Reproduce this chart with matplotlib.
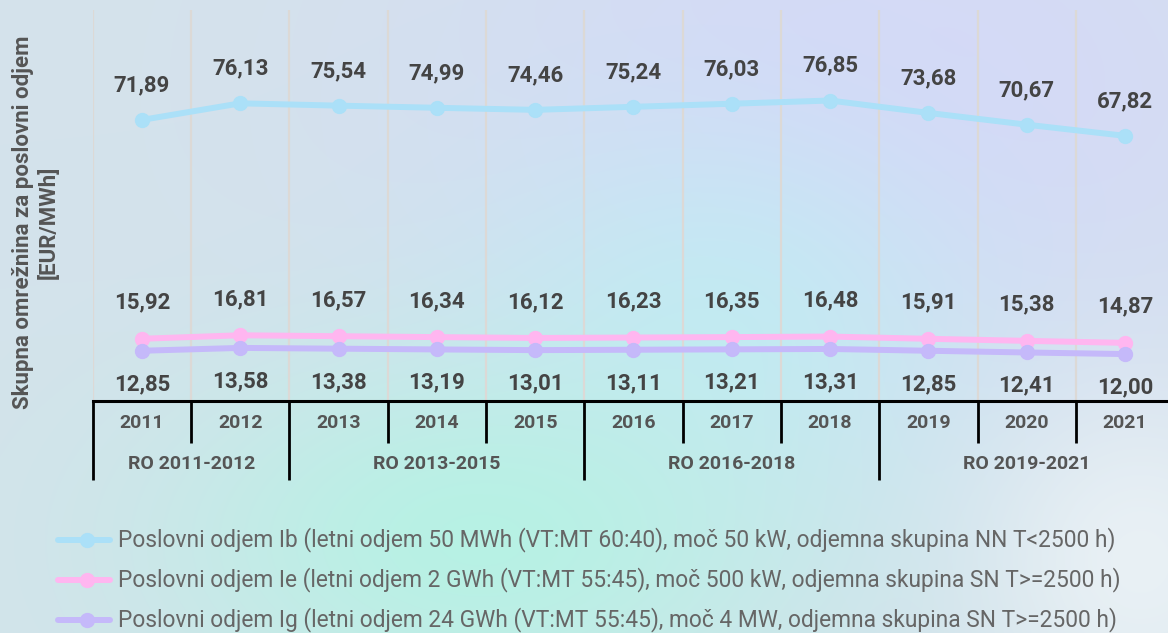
import numpy as np
import matplotlib.pyplot as plt
from matplotlib.lines import Line2D

plt.rcParams['font.family'] = ['Roboto', 'DejaVu Sans']

years = ['2011', '2012', '2013', '2014', '2015', '2016',
         '2017', '2018', '2019', '2020', '2021']
periods = ['RO 2011-2012', 'RO 2013-2015', 'RO 2016-2018', 'RO 2019-2021']
period_len = [2, 3, 3, 3]

ib = [71.89, 76.13, 75.54, 74.99, 74.46, 75.24, 76.03, 76.85, 73.68, 70.67, 67.82]
ie = [15.92, 16.81, 16.57, 16.34, 16.12, 16.23, 16.35, 16.48, 15.91, 15.38, 14.87]
ig = [12.85, 13.58, 13.38, 13.19, 13.01, 13.11, 13.21, 13.31, 12.85, 12.41, 12.00]

names = [
    'Poslovni odjem Ib (letni odjem 50 MWh (VT:MT 60:40), moč 50 kW, odjemna skupina NN T<2500 h)',
    'Poslovni odjem Ie (letni odjem 2 GWh (VT:MT 55:45), moč 500 kW, odjemna skupina SN T>=2500 h)',
    'Poslovni odjem Ig (letni odjem 24 GWh (VT:MT 55:45), moč 4 MW, odjemna skupina SN T>=2500 h)',
]
colors = ['#abe0f8', '#ffb6f0', '#c5b9fa']

W, H = 1168, 633
fig = plt.figure(figsize=(W / 100, H / 100), dpi=100)

# soft pastel background
yy, xx = np.mgrid[0:H, 0:W]
img = np.ones((H, W, 3)) * np.array([212, 227, 235]) / 255


def blob(img, cx, cy, sx, sy, col, a):
    w = a * np.exp(-((xx - cx) ** 2 / (2 * sx ** 2) + (yy - cy) ** 2 / (2 * sy ** 2)))
    return img * (1 - w[..., None]) + np.array(col)[None, None, :] / 255 * w[..., None]


img = blob(img, 880, 100, 330, 220, (213, 216, 248), 0.95)
img = blob(img, 720, 320, 170, 140, (192, 236, 244), 0.8)
img = blob(img, 480, 540, 220, 130, (182, 242, 228), 0.95)
img = blob(img, 1140, 560, 110, 120, (238, 244, 247), 0.8)
bg = fig.add_axes([0, 0, 1, 1], zorder=-10)
bg.imshow(img, aspect='auto', extent=(0, 1, 0, 1))
bg.axis('off')

x = np.arange(len(years))
left = 92.85 / W
width = (W - 92.85) / W
xlim = (-0.5, -0.5 + 1075.15 / 98.3)

ax = fig.add_axes([left, (H - 401) / H, width, 391 / H])
ax.set_facecolor('none')
ax.set_xlim(*xlim)
ax.set_ylim(0, 100)
for s in ax.spines.values():
    s.set_visible(False)
ax.set_xticks([])
ax.set_yticks([])
for b in np.arange(-0.5, 10.6, 1.0):
    ax.axvline(b, color='#dcd9d6', lw=1.6, zorder=0)

label_kw = dict(ha='center', va='center', fontsize=16, fontweight='bold',
                color='#444444', textcoords='offset points')
for series, col, off in [(ib, colors[0], 25), (ie, colors[1], 26), (ig, colors[2], -24)]:
    ax.plot(x, series, color=col, lw=4.3, marker='o', ms=10, zorder=3,
            solid_capstyle='round')
    for xi, v in zip(x, series):
        ax.annotate(f'{v:.2f}'.replace('.', ','), (xi, v), xytext=(0, off), **label_kw)

fig.text(36 / W, (H - 222) / H, 'Skupna omrežnina za poslovni odjem\n[EUR/MWh]',
         rotation=90, ha='center', va='center', multialignment='center',
         fontsize=16, fontweight='bold', color='#555555', linespacing=1.2)

# category table under the plot
tab = fig.add_axes([left, (H - 480) / H, width, 79 / H])
tab.set_facecolor('none')
tab.set_xlim(*xlim)
tab.set_ylim(0, 1)
tab.axis('off')
tab.axhline(1, color='black', lw=2.2, clip_on=False)
tab.vlines(-0.5, 0, 1, color='black', lw=2, clip_on=False)
edges = np.cumsum(period_len)
for i in range(1, len(years)):
    b = i - 0.5
    full = i in edges
    tab.vlines(b, 0 if full else 0.47, 1, color='black', lw=2, clip_on=False)
for xi, yr in zip(x, years):
    tab.text(xi, 0.72, yr, ha='center', va='center', fontsize=14,
             fontweight='bold', color='#555555')
start = 0
for p, n in zip(periods, period_len):
    tab.text(start + (n - 1) / 2, 0.2, p, ha='center', va='center',
             fontsize=14, fontweight='bold', color='#555555')
    start += n

# legend rows
for i, (name, col) in enumerate(zip(names, colors)):
    yf = (H - (540 + 40 * i)) / H
    fig.add_artist(Line2D([58 / W, 110 / W], [yf, yf], color=col, lw=4.3,
                          solid_capstyle='round', transform=fig.transFigure))
    fig.add_artist(Line2D([87 / W], [yf], color=col, marker='o', ms=10,
                          transform=fig.transFigure))
    fig.text(118 / W, yf, name, ha='left', va='center', fontsize=16.4,
             color='#666666')

fig.savefig('out.png', dpi=100)
